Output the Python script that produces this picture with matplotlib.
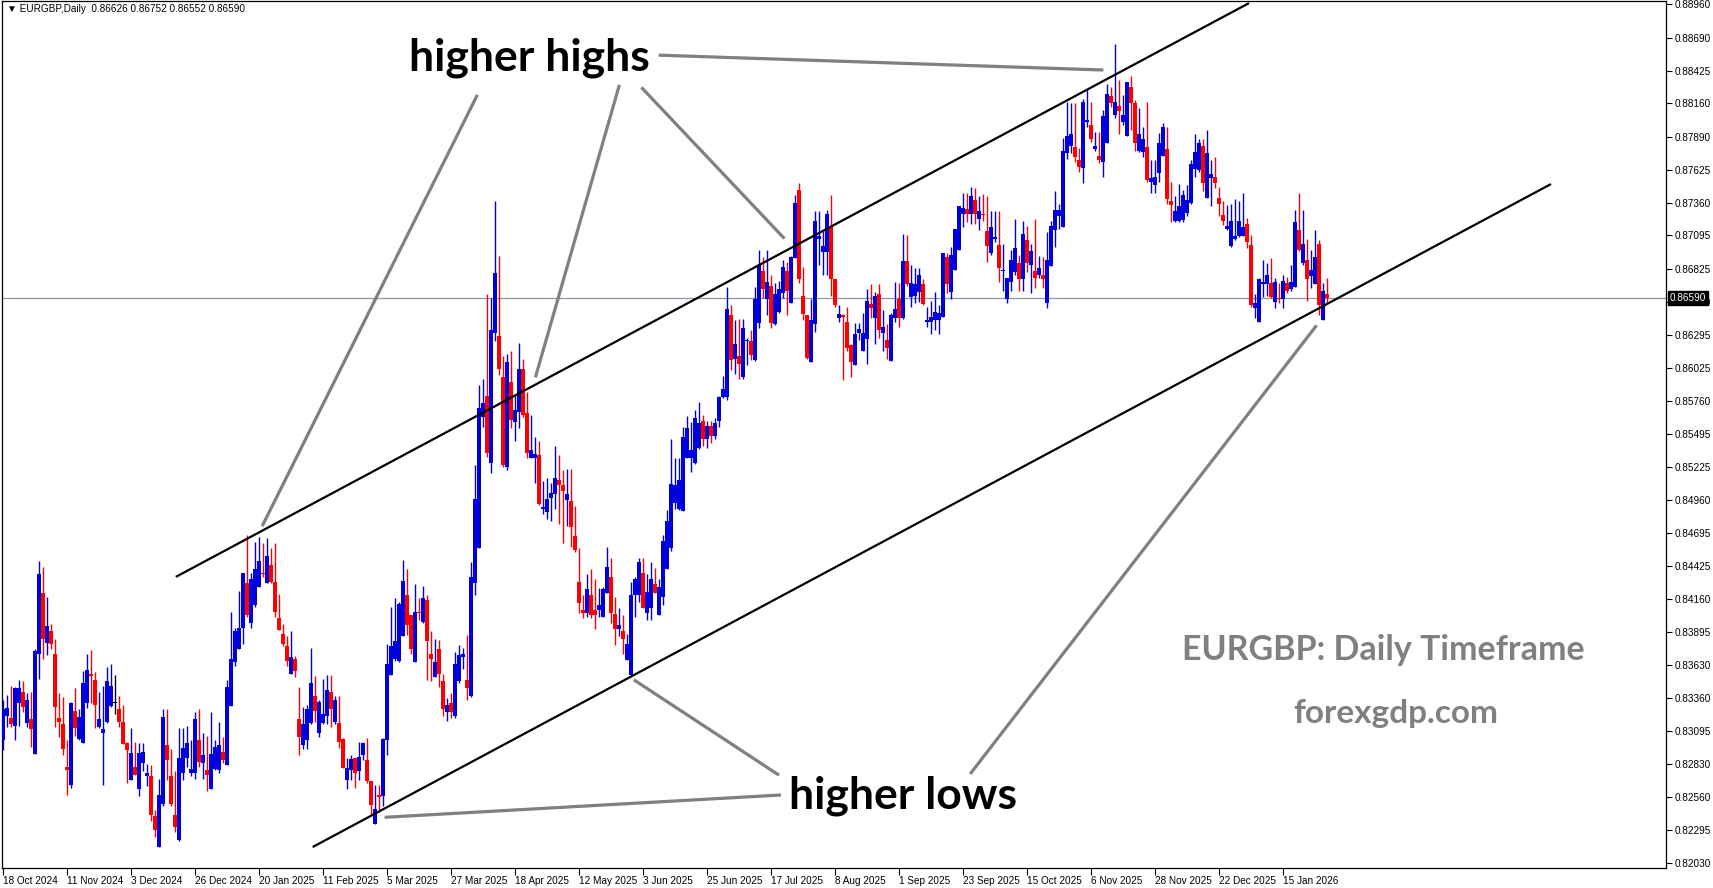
import numpy as np
import matplotlib.pyplot as plt

# EURGBP daily candles (index 0 = 18 Oct 2024)
opens = [
    .8302, .8322, .8320, .8314, .8332, .8341, .8316, .8319, .8291, .8372,
    .8421, .8381, .8390, .8372, .8320, .8315, .8281, .8266, .8326, .8303,
    .8300, .8332, .8356, .8351, .8313, .8308, .8317, .8330, .8332, .8327,
    .8317, .8300, .8270, .8281, .8263, .8284, .8273, .8273, .8241, .8216,
    .8251, .8298, .8273, .8242, .8222, .8276, .8288, .8276, .8276, .8302,
    .8284, .8278, .8263, .8279, .8278, .8293, .8282, .8330, .8365, .8376,
    .8393, .8429, .8397, .8411, .8426, .8437, .8429, .8444, .8430, .8401,
    .8388, .8378, .8356, .8368, .8319, .8298, .8302, .8316, .8338, .8308,
    .8316, .8322, .8341, .8317, .8316, .8303, .8270, .8278, .8288, .8277,
    .8290, .8286, .8269, .8235, .8258, .8257, .8302, .8355, .8368, .8366,
    .8386, .8419, .8403, .8365, .8406, .8398, .8415, .8372, .8353, .8376,
    .8350, .8325, .8332, .8322, .8350, .8369, .8351, .8338, .8429, .8457,
    .8563, .8580, .8526, .8631, .8628, .8595, .8523, .8591, .8559, .8567,
    .8602, .8566, .8530, .8530, .8532, .8489, .8486, .8498, .8501, .8512,
    .8508, .8496, .8495, .8467, .8430, .8407, .8405, .8419, .8407, .8407,
    .8402, .8421, .8434, .8404, .8392, .8390, .8367, .8355, .8419, .8419,
    .8437, .8405, .8409, .8428, .8403, .8418, .8440, .8457, .8494, .8489,
    .8487, .8530, .8530, .8526, .8538, .8560, .8545, .8556, .8548, .8560,
    .8579, .8579, .8645, .8610, .8612, .8595, .8624, .8624, .8609, .8639,
    .8681, .8658, .8669, .8638, .8648, .8663, .8681, .8655, .8691, .8746,
    .8661, .8645, .8607, .8638, .8707, .8696, .8696, .8717, .8674, .8643,
    .8645, .8640, .8621, .8605, .8631, .8616, .8626, .8654, .8643, .8662,
    .8631, .8625, .8608, .8643, .8658, .8643, .8689, .8660, .8661, .8664,
    .8670, .8640, .8640, .8641, .8641, .8644, .8692, .8664, .8682, .8698,
    .8727, .8731, .8727, .8738, .8723, .8727, .8713, .8695, .8707, .8702,
    .8681, .8658, .8672, .8680, .8687, .8674, .8706, .8686, .8681, .8678,
    .8678, .8655, .8685, .8714, .8725, .8716, .8776, .8782, .8781, .8770,
    .8764, .8801, .8799, .8779, .8774, .8769, .8784, .8822, .8807, .8814,
    .8801, .8790, .8829, .8816, .8778, .8777, .8781, .8753, .8750, .8760,
    .8774, .8779, .8737, .8721, .8721, .8722, .8728, .8736, .8763, .8762,
    .8782, .8740, .8756, .8757, .8740, .8726, .8715, .8701, .8707, .8709,
    .8709, .8719, .8702, .8651, .8640, .8670, .8670, .8671, .8656, .8659,
    .8658, .8671, .8666, .8668, .8714, .8687, .8690, .8677, .8670, .8703,
    .8641, .86626]
highs = [
    .8335, .8339, .8346, .8345, .8351, .8350, .8340, .8341, .8376, .8447,
    .8442, .8418, .8396, .8384, .8340, .8337, .8302, .8333, .8344, .8327,
    .8358, .8372, .8375, .8357, .8341, .8346, .8361, .8364, .8355, .8338,
    .8331, .8301, .8312, .8301, .8300, .8300, .8283, .8282, .8246, .8271,
    .8327, .8327, .8295, .8277, .8312, .8312, .8314, .8302, .8325, .8327,
    .8308, .8306, .8325, .8302, .8317, .8305, .8351, .8406, .8393, .8423,
    .8437, .8468, .8437, .8462, .8466, .8461, .8465, .8457, .8461, .8420,
    .8396, .8386, .8390, .8370, .8345, .8329, .8331, .8377, .8354, .8335,
    .8352, .8355, .8355, .8338, .8338, .8304, .8288, .8290, .8288, .8301,
    .8301, .8304, .8269, .8266, .8266, .8304, .8380, .8410, .8417, .8414,
    .8448, .8440, .8403, .8428, .8417, .8427, .8419, .8390, .8384, .8383,
    .8356, .8336, .8340, .8373, .8379, .8377, .8387, .8446, .8524, .8589,
    .8594, .8662, .8659, .8737, .8693, .8612, .8614, .8616, .8580, .8623,
    .8610, .8583, .8565, .8547, .8544, .8511, .8514, .8510, .8540, .8532,
    .8520, .8521, .8521, .8491, .8457, .8419, .8436, .8440, .8432, .8425,
    .8426, .8458, .8449, .8418, .8409, .8403, .8388, .8430, .8434, .8449,
    .8449, .8436, .8446, .8441, .8432, .8468, .8488, .8545, .8530, .8530,
    .8555, .8564, .8559, .8569, .8575, .8565, .8560, .8560, .8562, .8580,
    .8596, .8668, .8653, .8641, .8642, .8642, .8627, .8633, .8668, .8698,
    .8692, .8698, .8678, .8671, .8673, .8690, .8688, .8693, .8742, .8752,
    .8684, .8645, .8658, .8729, .8729, .8713, .8730, .8742, .8674, .8653,
    .8646, .8652, .8622, .8639, .8639, .8647, .8666, .8670, .8664, .8670,
    .8649, .8638, .8647, .8672, .8671, .8711, .8710, .8686, .8683, .8683,
    .8674, .8652, .8657, .8664, .8653, .8695, .8695, .8700, .8715, .8733,
    .8744, .8744, .8749, .8748, .8741, .8743, .8741, .8729, .8729, .8729,
    .8703, .8675, .8698, .8723, .8694, .8721, .8717, .8703, .8723, .8693,
    .8692, .8712, .8721, .8745, .8735, .8788, .8817, .8816, .8816, .8780,
    .8820, .8827, .8817, .8793, .8793, .8811, .8832, .8829, .8864, .8835,
    .8823, .8833, .8838, .8819, .8812, .8797, .8817, .8770, .8770, .8792,
    .8800, .8797, .8753, .8741, .8751, .8746, .8750, .8770, .8791, .8787,
    .8787, .8795, .8770, .8773, .8749, .8737, .8734, .8735, .8739, .8737,
    .8744, .8724, .8710, .8662, .8675, .8690, .8687, .8691, .8675, .8671,
    .8678, .8676, .8686, .8730, .8744, .8730, .8707, .8698, .8714, .8706,
    .8671, .86752]
lows = [
    .8294, .8313, .8313, .8302, .8314, .8325, .8313, .8297, .8291, .8352,
    .8368, .8371, .8376, .8313, .8305, .8290, .8258, .8264, .8306, .8302,
    .8300, .8328, .8332, .8312, .8312, .8266, .8316, .8329, .8323, .8313,
    .8299, .8268, .8270, .8274, .8257, .8277, .8265, .8237, .8224, .8216,
    .8249, .8270, .8249, .8228, .8221, .8270, .8281, .8273, .8271, .8281,
    .8271, .8261, .8263, .8278, .8276, .8284, .8282, .8330, .8362, .8376,
    .8380, .8402, .8393, .8410, .8426, .8434, .8429, .8429, .8402, .8391,
    .8378, .8362, .8356, .8353, .8290, .8295, .8295, .8315, .8317, .8305,
    .8315, .8315, .8313, .8315, .8296, .8280, .8263, .8270, .8264, .8270,
    .8286, .8268, .8243, .8235, .8246, .8249, .8290, .8355, .8366, .8365,
    .8386, .8387, .8372, .8365, .8399, .8397, .8351, .8350, .8353, .8345,
    .8322, .8318, .8320, .8320, .8348, .8360, .8335, .8337, .8419, .8457,
    .8555, .8531, .8518, .8624, .8597, .8523, .8520, .8554, .8544, .8554,
    .8563, .8530, .8530, .8510, .8492, .8485, .8481, .8479, .8489, .8477,
    .8461, .8475, .8458, .8454, .8405, .8401, .8402, .8401, .8392, .8402,
    .8402, .8421, .8397, .8379, .8386, .8372, .8367, .8355, .8402, .8414,
    .8409, .8399, .8399, .8421, .8403, .8411, .8440, .8455, .8489, .8488,
    .8487, .8530, .8519, .8525, .8537, .8540, .8538, .8542, .8545, .8555,
    .8578, .8577, .8601, .8598, .8594, .8594, .8605, .8609, .8608, .8635,
    .8659, .8645, .8635, .8637, .8647, .8659, .8645, .8655, .8691, .8671,
    .8641, .8610, .8607, .8632, .8686, .8678, .8678, .8661, .8652, .8640,
    .8593, .8616, .8595, .8605, .8625, .8616, .8606, .8643, .8622, .8627,
    .8616, .8610, .8608, .8640, .8636, .8642, .8669, .8652, .8655, .8656,
    .8653, .8636, .8630, .8633, .8630, .8644, .8663, .8658, .8682, .8698,
    .8716, .8720, .8719, .8719, .8714, .8721, .8688, .8694, .8704, .8672,
    .8665, .8655, .8665, .8678, .8665, .8665, .8680, .8663, .8667, .8675,
    .8667, .8651, .8685, .8700, .8715, .8716, .8771, .8776, .8769, .8761,
    .8752, .8797, .8785, .8778, .8768, .8757, .8784, .8813, .8804, .8791,
    .8799, .8790, .8795, .8778, .8777, .8773, .8753, .8744, .8744, .8753,
    .8774, .8735, .8720, .8720, .8720, .8720, .8725, .8735, .8757, .8761,
    .8745, .8740, .8733, .8748, .8725, .8718, .8714, .8700, .8706, .8708,
    .8709, .8699, .8652, .8643, .8640, .8660, .8661, .8659, .8651, .8655,
    .8651, .8663, .8665, .8668, .8697, .8686, .8657, .8667, .8670, .8645,
    .8641, .86552]
closes = [
    .8327, .8328, .8315, .8344, .8344, .8329, .8335, .8311, .8374, .8436,
    .8384, .8394, .8380, .8329, .8317, .8295, .8278, .8332, .8312, .8321,
    .8348, .8359, .8354, .8331, .8319, .8311, .8350, .8346, .8332, .8317,
    .8299, .8294, .8292, .8274, .8292, .8293, .8276, .8242, .8230, .8258,
    .8321, .8286, .8251, .8232, .8288, .8296, .8300, .8279, .8319, .8285,
    .8290, .8274, .8291, .8297, .8298, .8286, .8345, .8368, .8390, .8393,
    .8437, .8403, .8432, .8440, .8447, .8436, .8451, .8430, .8406, .8391,
    .8380, .8366, .8369, .8358, .8305, .8315, .8327, .8348, .8326, .8333,
    .8323, .8343, .8327, .8335, .8301, .8280, .8280, .8287, .8276, .8289,
    .8300, .8269, .8250, .8247, .8256, .8303, .8364, .8378, .8382, .8412,
    .8431, .8395, .8376, .8406, .8405, .8417, .8382, .8368, .8365, .8356,
    .8327, .8331, .8325, .8364, .8371, .8372, .8344, .8434, .8497, .8570,
    .8574, .8534, .8633, .8679, .8602, .8524, .8607, .8561, .8569, .8602,
    .8565, .8534, .8536, .8533, .8493, .8490, .8497, .8502, .8514, .8508,
    .8503, .8501, .8474, .8456, .8413, .8405, .8424, .8403, .8403, .8411,
    .8424, .8442, .8405, .8392, .8395, .8384, .8380, .8419, .8432, .8446,
    .8409, .8422, .8432, .8421, .8426, .8463, .8479, .8509, .8508, .8512,
    .8547, .8554, .8536, .8562, .8558, .8545, .8556, .8548, .8558, .8579,
    .8586, .8650, .8609, .8622, .8606, .8635, .8625, .8613, .8658, .8686,
    .8666, .8672, .8639, .8662, .8666, .8684, .8665, .8692, .8736, .8674,
    .8646, .8611, .8641, .8721, .8709, .8701, .8727, .8674, .8653, .8646,
    .8644, .8619, .8607, .8630, .8634, .8631, .8657, .8651, .8661, .8633,
    .8636, .8619, .8645, .8650, .8643, .8689, .8670, .8671, .8670, .8678,
    .8654, .8641, .8644, .8648, .8647, .8695, .8670, .8694, .8715, .8733,
    .8732, .8727, .8741, .8727, .8729, .8726, .8701, .8716, .8708, .8683,
    .8682, .8675, .8690, .8699, .8674, .8711, .8687, .8697, .8675, .8683,
    .8674, .8690, .8717, .8730, .8730, .8778, .8790, .8791, .8773, .8765,
    .8817, .8803, .8787, .8782, .8770, .8806, .8824, .8816, .8817, .8810,
    .8807, .8833, .8816, .8784, .8791, .8787, .8754, .8756, .8757, .8784,
    .8797, .8739, .8734, .8729, .8733, .8742, .8738, .8767, .8777, .8784,
    .8752, .8776, .8759, .8752, .8735, .8721, .8717, .8721, .8709, .8721,
    .8716, .8704, .8653, .8655, .8674, .8672, .8678, .8660, .8672, .8658,
    .8673, .8665, .8672, .8720, .8698, .8703, .8674, .8682, .8692, .8653,
    .8665, .86590]

# time axis: one label every 16 bars
date_labels = ['18 Oct 2024', '11 Nov 2024', '3 Dec 2024', '26 Dec 2024',
               '20 Jan 2025', '11 Feb 2025', '5 Mar 2025', '27 Mar 2025',
               '18 Apr 2025', '12 May 2025', '3 Jun 2025', '25 Jun 2025',
               '17 Jul 2025', '8 Aug 2025', '1 Sep 2025', '23 Sep 2025',
               '15 Oct 2025', '6 Nov 2025', '28 Nov 2025', '22 Dec 2025',
               '15 Jan 2026']
label_step = 16

price_ticks = [0.88960, 0.88690, 0.88425, 0.88160, 0.87890, 0.87625, 0.87360,
               0.87095, 0.86825, 0.86560, 0.86295, 0.86025, 0.85760, 0.85495,
               0.85225, 0.84960, 0.84695, 0.84425, 0.84160, 0.83895, 0.83630,
               0.83360, 0.83095, 0.82830, 0.82560, 0.82295, 0.82030]

# channel lines: (bar, price) anchors
upper_channel = [(43.2, 0.8434), (311.5, 0.8897)]
lower_channel = [(77.4, 0.8216), (387.0, 0.8751)]

o = np.array(opens)
h = np.array(highs)
l = np.array(lows)
c = np.array(closes)
x = np.arange(len(c))

fig = plt.figure(figsize=(17.13, 8.88), dpi=100)
ax = fig.add_axes([2 / 1713, 20 / 888, 1664 / 1713, 867 / 888])
ax.set_xlim(-0.25, 415.75)
ax.set_ylim(0.81991, 0.88987)

BLUE = '#0000dd'
RED = '#ff0000'
colors = np.where(c > o, BLUE, np.where(c < o, RED, 'black'))

# bid line
ax.axhline(c[-1], color='#8a98a8', lw=0.9, zorder=1)

# candles
ax.vlines(x, l, h, colors=colors, lw=1.0, zorder=3)
body = np.maximum(np.abs(c - o), 0.00008)
ax.bar(x, body, bottom=np.minimum(o, c), width=0.78, color=colors,
       linewidth=0, zorder=3)

# channel
for pts in (upper_channel, lower_channel):
    ax.plot([p[0] for p in pts], [p[1] for p in pts], color='black',
            lw=1.6, zorder=4, solid_capstyle='butt')

# annotations
GRAY = '#808080'
ann_font = dict(family=['Lato', 'DejaVu Sans'], weight='bold')
hh_lines = [((118.6, 0.8823), (64.8, 0.8475)),
            ((154.1, 0.8831), (133.1, 0.8595)),
            ((159.6, 0.8829), (195.35, 0.8707)),
            ((163.95, 0.8855), (275.1, 0.8843))]
hl_lines = [((194.0, 0.8274), (157.7, 0.8351)),
            ((194.5, 0.8258), (95.4, 0.8240)),
            ((241.8, 0.8275), (328.4, 0.8637))]
for a, b in hh_lines + hl_lines:
    ax.plot([a[0], b[0]], [a[1], b[1]], color=GRAY, lw=2.3, zorder=5,
            solid_capstyle='butt')

ax.text(131.7, 0.8853, 'higher highs', ha='center', va='center',
        fontsize=32, color='black', zorder=6, **ann_font)
ax.text(225.1, 0.8257, 'higher lows', ha='center', va='center',
        fontsize=32, color='black', zorder=6, **ann_font)
ax.text(345.0, 0.8375, 'EURGBP: Daily Timeframe', ha='center', va='center',
        fontsize=24.5, color=GRAY, zorder=6, **ann_font)
ax.text(348.3, 0.8324, 'forexgdp.com', ha='center', va='center',
        fontsize=24, color=GRAY, zorder=6, **ann_font)

# header
tick_font = ['Liberation Sans', 'DejaVu Sans']
ax.text(0.003, 0.997,
        '\u25bc EURGBP,Daily  %.5f %.5f %.5f %.5f' % (o[-1], h[-1], l[-1], c[-1]),
        transform=ax.transAxes, ha='left', va='top', fontsize=7.2,
        family=tick_font, zorder=6)

# axes
ax.yaxis.tick_right()
ax.set_yticks(price_ticks)
ax.set_yticklabels(['%.5f' % v for v in price_ticks], family=tick_font)
xt = np.arange(len(date_labels)) * label_step
ax.set_xticks(xt)
ax.set_xticklabels(date_labels, ha='left', family=tick_font)
ax.tick_params(axis='y', direction='out', length=4, width=0.8, pad=2,
               labelsize=7.2)
ax.tick_params(axis='x', direction='out', length=5, width=0.8, pad=1,
               labelsize=7.2)
for s in ax.spines.values():
    s.set_linewidth(0.9)

# current price tag
ax.text(1.002, c[-1], '%.5f' % c[-1], transform=ax.get_yaxis_transform(),
        ha='left', va='center', fontsize=7.2, color='white', family=tick_font,
        zorder=10, clip_on=False,
        bbox=dict(facecolor='black', edgecolor='black', pad=1.3))

fig.savefig('out.png', dpi=100)
